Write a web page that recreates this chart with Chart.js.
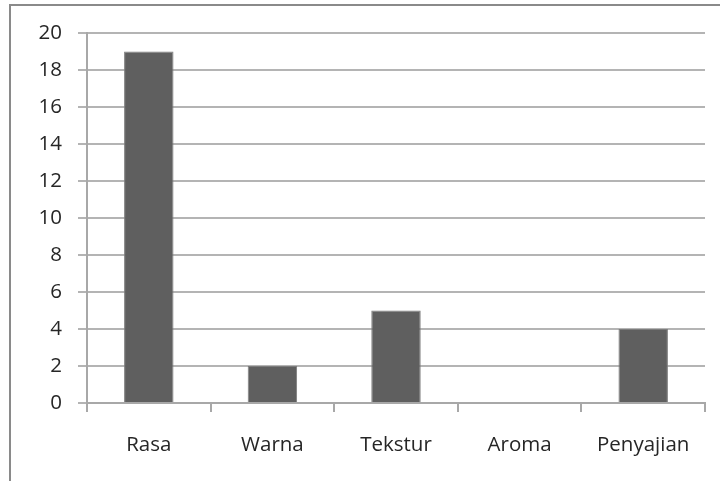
<!DOCTYPE html>
<html>
<head>
<meta charset="utf-8">
<script src="https://cdn.jsdelivr.net/npm/chart.js@4"></script>
<style>
  html, body { margin: 0; padding: 0; background: #fff; }
  #wrap { position: relative; width: 720px; height: 481px; overflow: hidden; }
  #frame { position: absolute; left: 9px; top: 4px; width: 800px; height: 600px;
           border-left: 2px solid #8a8a8a; border-top: 2px solid #8a8a8a; }
  canvas { position: absolute; left: 0; top: 0; }
</style>
</head>
<body>
<div id="wrap">
  <div id="frame"></div>
  <canvas id="c" width="720" height="481"></canvas>
</div>
<script>
// Categories and counts
const categories = ['Rasa', 'Warna', 'Tekstur', 'Aroma', 'Penyajian'];
const counts = [19, 2, 5, 0, 4];
const yTicks = [0, 2, 4, 6, 8, 10, 12, 14, 16, 18, 20];

const font = { family: '"Open Sans", sans-serif', size: 20.5 };

new Chart(document.getElementById('c'), {
  type: 'bar',
  data: {
    labels: categories,
    datasets: [{
      data: counts,
      backgroundColor: '#5f5f5f',
      borderColor: '#7c7c7c',
      borderWidth: 1,
      barPercentage: 0.4,
      categoryPercentage: 1.0
    }]
  },
  options: {
    responsive: false,
    animation: false,
    plugins: { legend: { display: false }, tooltip: { enabled: false } },
    layout: { padding: { left: 0, right: 15, top: 33, bottom: 0 } },
    scales: {
      x: {
        afterFit: (axis) => { axis.height = 78; },
        grid: { offset: true, drawOnChartArea: false, drawTicks: true, tickLength: 9,
                color: '#a8a8a8', lineWidth: 2 },
        border: { color: '#a8a8a8', width: 2 },
        ticks: { font: font, color: '#262626', padding: 21 }
      },
      y: {
        min: 0, max: 20,
        afterFit: (axis) => { axis.width = 87; },
        afterBuildTicks: (axis) => { axis.ticks = yTicks.map(v => ({ value: v })); },
        grid: { color: '#b4b4b4', lineWidth: 2, tickLength: 9 },
        border: { color: '#a8a8a8', width: 2 },
        ticks: { font: font, color: '#262626', padding: 16 }
      }
    }
  }
});
</script>
</body>
</html>
